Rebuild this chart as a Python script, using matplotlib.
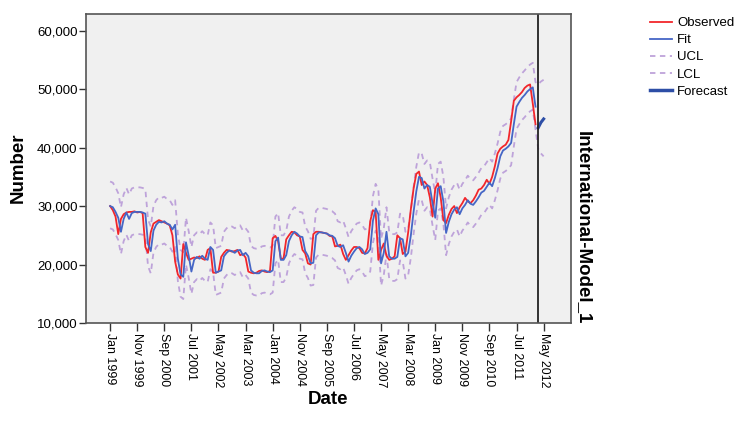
import numpy as np
import matplotlib
matplotlib.use('Agg')
import matplotlib.pyplot as plt
from matplotlib.lines import Line2D
from matplotlib.ticker import FuncFormatter

plt.rcParams['font.family'] = ['Liberation Sans', 'DejaVu Sans']

# monthly series, Jan 1999 onwards, values in thousands
tick_labels = ['Jan 1999', 'Nov 1999', 'Sep 2000', 'Jul 2001', 'May 2002', 'Mar 2003',
               'Jan 2004', 'Nov 2004', 'Sep 2005', 'Jul 2006', 'May 2007', 'Mar 2008',
               'Jan 2009', 'Nov 2009', 'Sep 2010', 'Jul 2011', 'May 2012']

observed = [30.0, 29.3, 28.2, 25.2, 27.8, 28.6, 28.9, 29.0, 29.0, 29.1,
            28.9, 29.0, 28.8, 23.0, 22.0, 25.5, 27.0, 27.3, 27.6, 27.4,
            27.2, 27.0, 26.7, 25.0, 20.5, 18.3, 17.6, 23.5, 22.0, 20.8,
            21.0, 21.2, 21.1, 21.4, 21.0, 20.8, 22.5, 22.8, 18.6, 18.6,
            18.8, 21.3, 22.0, 22.5, 22.4, 22.2, 22.3, 22.5, 21.6, 21.8,
            21.2, 18.8, 18.6, 18.5, 18.6, 18.9, 19.0, 18.8, 18.7, 18.9,
            24.5, 24.9, 24.0, 21.0, 21.0, 24.3, 25.0, 25.6, 25.5, 25.0,
            24.8, 22.5, 21.9, 20.2, 20.0, 25.2, 25.6, 25.6, 25.5, 25.4,
            25.3, 24.9, 24.8, 23.1, 23.2, 23.4, 21.8, 20.8, 21.6, 22.4,
            23.0, 23.0, 22.8, 22.0, 21.9, 22.8, 27.4, 29.3, 29.0, 20.8,
            22.5, 23.6, 21.5, 20.8, 21.0, 21.4, 25.0, 24.5, 21.8, 22.2,
            25.5, 29.5, 33.0, 35.5, 35.9, 33.6, 34.2, 33.6, 31.5, 28.2,
            33.0, 33.9, 31.5, 27.6, 27.1, 28.5, 29.5, 30.0, 28.8, 29.8,
            30.5, 31.4, 30.8, 30.5, 31.0, 31.8, 32.8, 33.0, 33.6, 34.5,
            33.8, 35.0, 36.8, 39.0, 39.8, 40.2, 40.5, 41.3, 44.5, 48.0,
            48.6, 49.0, 49.5, 50.2, 50.6, 50.8, 47.5, 44.0]

fit = [30.0, 29.8, 29.0, 28.0, 25.6, 27.8, 28.9, 27.8, 28.8, 29.0,
       29.0, 29.0, 28.9, 28.7, 23.5, 22.3, 25.8, 26.8, 27.3, 27.2,
       27.4, 27.0, 26.8, 26.0, 26.8, 21.0, 18.3, 17.9, 23.8, 21.5,
       18.8, 20.8, 21.3, 21.0, 21.5, 21.0, 20.8, 23.0, 22.5, 18.6,
       18.8, 19.0, 21.4, 22.0, 22.4, 22.3, 22.0, 22.4, 22.5, 21.6,
       22.0, 21.4, 19.0, 18.6, 18.5, 18.5, 18.9, 19.0, 18.8, 18.7,
       19.0, 24.0, 24.6, 20.8, 20.8, 21.6, 24.0, 25.0, 25.6, 25.3,
       24.8, 24.7, 22.3, 21.5, 20.2, 20.3, 25.0, 25.5, 25.5, 25.4,
       25.3, 25.0, 24.9, 24.5, 23.2, 23.0, 23.3, 22.0, 20.5, 21.5,
       22.2, 22.8, 23.0, 22.6, 21.8, 22.0, 22.6, 27.5, 29.6, 28.6,
       20.2, 22.0, 25.6, 21.4, 21.0, 21.0, 21.3, 24.5, 24.3, 21.4,
       22.0, 25.0, 29.0, 32.5, 35.0, 34.8, 33.0, 33.6, 33.3, 30.5,
       28.0, 33.0, 33.4, 30.8, 25.4, 27.3, 28.6, 29.4, 29.8, 28.6,
       29.6, 30.2, 31.0, 30.4, 30.2, 30.8, 31.5, 32.3, 32.6, 33.3,
       34.0, 33.4, 34.8, 36.5, 38.5, 39.5, 39.8, 40.2, 40.8, 44.0,
       47.0, 47.8, 48.5, 49.0, 49.6, 50.0, 50.3, 47.0]

ucl = [34.2, 34.0, 33.2, 32.2, 29.8, 32.0, 33.1, 32.0, 33.0, 33.2,
       33.2, 33.2, 33.1, 32.9, 27.7, 26.5, 30.0, 31.0, 31.5, 31.4,
       31.6, 31.2, 31.0, 30.2, 31.0, 25.2, 22.5, 22.1, 28.0, 25.7,
       23.0, 25.0, 25.5, 25.2, 25.7, 25.2, 25.0, 27.2, 26.7, 22.8,
       23.0, 23.2, 25.6, 26.2, 26.6, 26.5, 26.2, 26.6, 26.7, 25.8,
       26.2, 25.6, 23.2, 22.8, 22.7, 22.7, 23.1, 23.2, 23.0, 22.9,
       23.2, 28.2, 28.8, 25.0, 25.0, 25.8, 28.2, 29.2, 29.8, 29.5,
       29.0, 28.9, 26.5, 25.7, 24.4, 24.5, 29.2, 29.7, 29.7, 29.6,
       29.5, 29.2, 29.1, 28.7, 27.4, 27.2, 27.5, 26.2, 24.7, 25.7,
       26.4, 27.0, 27.2, 26.8, 26.0, 26.2, 26.8, 31.7, 33.8, 32.8,
       24.4, 26.2, 29.8, 25.6, 25.2, 25.2, 25.5, 28.7, 28.5, 25.6,
       26.2, 29.2, 33.2, 36.7, 39.2, 39.0, 37.2, 37.8, 37.5, 34.7,
       32.2, 37.2, 37.6, 35.0, 29.6, 31.5, 32.8, 33.6, 34.0, 32.8,
       33.8, 34.4, 35.2, 34.6, 34.4, 35.0, 35.7, 36.5, 36.8, 37.5,
       38.2, 37.6, 39.0, 40.7, 42.7, 43.7, 44.0, 44.4, 45.0, 48.2,
       51.2, 52.0, 52.7, 53.2, 53.8, 54.2, 54.5, 51.2, 50.8, 51.3,
       51.6]

lcl = [26.2, 26.0, 25.2, 24.2, 21.8, 24.0, 25.1, 24.0, 25.0, 25.2,
       25.2, 25.2, 25.1, 24.9, 19.7, 18.5, 22.0, 23.0, 23.5, 23.4,
       23.6, 23.2, 23.0, 22.2, 23.0, 17.2, 14.5, 14.1, 20.0, 17.7,
       15.0, 17.0, 17.5, 17.2, 17.7, 17.2, 17.0, 19.2, 18.7, 14.8,
       15.0, 15.2, 17.6, 18.2, 18.6, 18.5, 18.2, 18.6, 18.7, 17.8,
       18.2, 17.6, 15.2, 14.8, 14.7, 14.7, 15.1, 15.2, 15.0, 14.9,
       15.2, 20.2, 20.8, 17.0, 17.0, 17.8, 20.2, 21.2, 21.8, 21.5,
       21.0, 20.9, 18.5, 17.7, 16.4, 16.5, 21.2, 21.7, 21.7, 21.6,
       21.5, 21.2, 21.1, 20.7, 19.4, 19.2, 19.5, 18.2, 16.7, 17.7,
       18.4, 19.0, 19.2, 18.8, 18.0, 18.2, 18.8, 23.7, 25.8, 24.8,
       16.4, 18.2, 21.8, 17.6, 17.2, 17.2, 17.5, 20.7, 20.5, 17.6,
       18.2, 21.2, 25.2, 28.7, 31.2, 31.0, 29.2, 29.8, 29.5, 26.7,
       24.2, 29.2, 29.6, 27.0, 21.6, 23.5, 24.8, 25.6, 26.0, 24.8,
       25.8, 26.4, 27.2, 26.6, 26.4, 27.0, 27.7, 28.5, 28.8, 29.5,
       30.2, 29.6, 31.0, 32.7, 34.7, 35.7, 36.0, 36.4, 37.0, 40.2,
       43.2, 44.0, 44.7, 45.2, 45.8, 46.2, 46.5, 43.2, 39.8, 39.0,
       38.5]

forecast = [43.4, 44.3, 44.9]
forecast_start = len(observed)

obs = np.array(observed) * 1000
fit_v = np.array(fit) * 1000
ucl_v = np.array(ucl) * 1000
lcl_v = np.array(lcl) * 1000
fc_v = np.array(forecast) * 1000

t_obs = np.arange(len(obs))
t_band = np.arange(len(ucl_v))
t_fc = np.arange(forecast_start, forecast_start + len(fc_v))

fig = plt.figure(figsize=(7.36, 4.23), dpi=100)
ax = fig.add_axes([86 / 736, 1 - 323 / 423, 485 / 736, 309 / 423])
ax.set_facecolor('#f0f0f0')

band_col = '#bea3da'
dash = (0, (3, 2.5))
ax.plot(t_band, ucl_v, color=band_col, lw=1.3, ls=dash)
ax.plot(t_band, lcl_v, color=band_col, lw=1.3, ls=dash)
ax.plot(t_obs, obs, color='#f2262b', lw=1.3)
ax.plot(t_obs, fit_v, color='#4566c6', lw=1.3)
ax.plot(t_fc, fc_v, color='#2d4ea6', lw=2.2)
ax.axvline(forecast_start - 0.2, color='#222222', lw=1.3)

ax.set_xlim(-8.9, 170.1)
ax.set_ylim(10000, 62850)
ax.set_yticks(range(10000, 60001, 10000))
ax.yaxis.set_major_formatter(FuncFormatter(lambda v, p: f'{int(v):,}'))
ax.set_xticks(range(0, 10 * len(tick_labels), 10))
ax.set_xticklabels(tick_labels, rotation=270, fontsize=8.9, va='top', ha='center')
ax.tick_params(axis='y', labelsize=9.5, length=5, width=1, color='#333333', pad=1)
ax.tick_params(axis='x', length=6, width=1, color='#333333', pad=1.5)
for s in ax.spines.values():
    s.set_color('#555555')
    s.set_linewidth(1.2)

fig.text(18 / 736, 1 - 168 / 423, 'Number', rotation=90, fontsize=13.5,
         fontweight='bold', ha='center', va='center')
fig.text(328 / 736, 1 - 399 / 423, 'Date', fontsize=13.5, fontweight='bold',
         ha='center', va='center')
fig.text(583 / 736, 1 - 228 / 423, 'International-Model_1', rotation=270,
         fontsize=13.5, fontweight='bold', ha='center', va='center')

handles = [Line2D([], [], color='#f2262b', lw=1.3),
           Line2D([], [], color='#4566c6', lw=1.3),
           Line2D([], [], color=band_col, lw=1.3, ls=dash),
           Line2D([], [], color=band_col, lw=1.3, ls=dash),
           Line2D([], [], color='#2d4ea6', lw=2.5)]
fig.legend(handles, ['Observed', 'Fit', 'UCL', 'LCL', 'Forecast'],
           loc='upper left', bbox_to_anchor=(650 / 736, 1 - 17 / 423),
           frameon=False, fontsize=9.5, handlelength=1.7, handletextpad=0.35,
           labelspacing=0.37, borderpad=0, borderaxespad=0)

fig.savefig('out.png', dpi=100)
